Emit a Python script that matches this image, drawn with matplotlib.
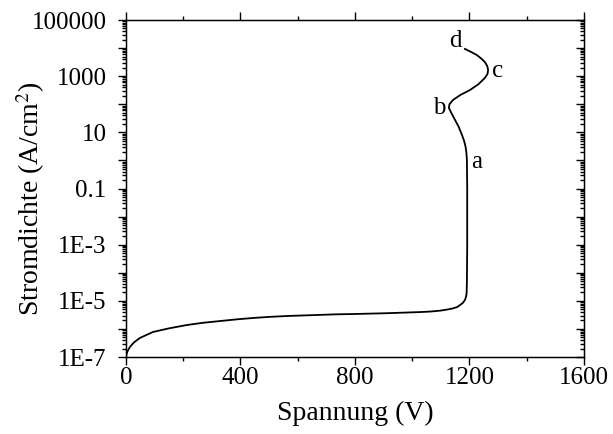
import numpy as np
import matplotlib
matplotlib.use("Agg")
import matplotlib.pyplot as plt
from matplotlib.ticker import LogLocator, NullFormatter, MultipleLocator

plt.rcParams['font.family'] = ['Liberation Serif', 'DejaVu Serif']
plt.rcParams['mathtext.fontset'] = 'stix'

# curve: voltage (V) and log10 of current density (A/cm^2)
spannung = [0, 2, 6, 14, 28, 49, 94, 150, 213, 270, 328, 386, 444, 503, 562,
            620, 678, 735, 793, 852, 912, 970, 1027, 1065, 1097, 1122, 1142,
            1157, 1167, 1177, 1184, 1188, 1190, 1191, 1192, 1192, 1191, 1189,
            1186, 1181, 1174, 1162, 1149, 1136, 1128, 1130, 1142, 1168, 1202,
            1232, 1254, 1263, 1265, 1262, 1254, 1242, 1226, 1206, 1184]
log_j = [-7.0, -6.9, -6.78, -6.64, -6.48, -6.32, -6.11, -5.98, -5.86, -5.78,
         -5.72, -5.66, -5.61, -5.57, -5.54, -5.52, -5.50, -5.48, -5.47, -5.455,
         -5.44, -5.42, -5.40, -5.38, -5.35, -5.31, -5.27, -5.22, -5.15, -5.07,
         -4.97, -4.85, -4.72, -4.3, -3.0, -1.0, 0.0, 0.3, 0.5, 0.7, 0.9, 1.2,
         1.45, 1.7, 1.87, 2.0, 2.15, 2.33, 2.51, 2.72, 2.94, 3.08, 3.22, 3.36,
         3.50, 3.62, 3.75, 3.86, 3.97]
stromdichte = 10.0 ** np.array(log_j)

# point labels
marken = ['a', 'b', 'c', 'd']
marken_v = [1226, 1093, 1297, 1150]
marken_j = [0.87, 74, 1500, 17800]

y_ticks = [1e-7, 1e-6, 1e-5, 1e-4, 1e-3, 1e-2, 1e-1, 1, 10, 100, 1000, 1e4, 1e5]
y_labels = ['1E-7', '', '1E-5', '', '1E-3', '', '0.1', '', '10', '', '1000', '', '100000']
x_ticks = [0, 400, 800, 1200, 1600]

fig = plt.figure(figsize=(6.13, 4.34), dpi=100)
ax = fig.add_axes([0.2055, 0.1774, 0.7472, 0.7765])

ax.plot(spannung, stromdichte, color='black', lw=1.3, solid_joinstyle='round')
ax.set_yscale('log')
ax.set_xlim(0, 1600)
ax.set_ylim(1e-7, 1e5)

for m, v, j in zip(marken, marken_v, marken_j):
    ax.text(v, j, m, fontsize=18, ha='center', va='center')

ax.set_yticks(y_ticks)
ax.set_yticklabels(y_labels)
ax.yaxis.set_minor_locator(LogLocator(base=10, subs=np.arange(2, 10), numticks=100))
ax.yaxis.set_minor_formatter(NullFormatter())
ax.set_xticks(x_ticks)
ax.xaxis.set_minor_locator(MultipleLocator(200))

# ticks point out on left, bottom and top; the right side mirrors them inward
ax.tick_params(which='both', direction='out', top=True, right=True, labelsize=18,
               width=1.0, colors='black')
ax.tick_params(axis='y', which='both', right=False)
ax.tick_params(which='major', length=6)
ax.tick_params(which='minor', length=3)
ax.tick_params(axis='y', pad=8)
ax.tick_params(axis='x', pad=1)

ax_r = ax.twinx()
ax_r.set_yscale('log')
ax_r.set_ylim(ax.get_ylim())
ax_r.set_yticks(y_ticks)
ax_r.yaxis.set_minor_locator(LogLocator(base=10, subs=np.arange(2, 10), numticks=100))
ax_r.yaxis.set_minor_formatter(NullFormatter())
ax_r.tick_params(which='both', direction='in', labelright=False, width=1.0)
ax_r.tick_params(which='major', length=6)
ax_r.tick_params(which='minor', length=3)

for s in ax.spines.values():
    s.set_linewidth(1.0)

ax.set_xlabel('Spannung (V)', fontsize=20, labelpad=9)
ax.set_ylabel('Stromdichte (A/cm$^2$)', fontsize=20)
ax.yaxis.set_label_coords(-0.172, 0.469)

fig.savefig('out.png', dpi=100)
